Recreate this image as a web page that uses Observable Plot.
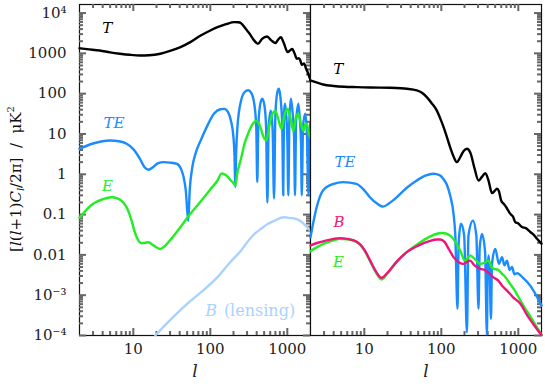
<!DOCTYPE html>
<html><head><meta charset="utf-8">
<script src="https://cdn.jsdelivr.net/npm/d3@7"></script>
<script src="https://cdn.jsdelivr.net/npm/@observablehq/plot@0.6"></script>
<style>
body{margin:0;background:#fff;}
#wrap{position:relative;width:545px;height:389px;font-family:"DejaVu Serif",serif;color:#111;}
#left,#right{position:absolute;top:0;}
#left{left:0}
#right{left:309px}
#ylab{position:absolute;left:15px;top:179px;transform:translate(-50%,-50%) rotate(-90deg);white-space:nowrap;font-size:15px;}
#ylab sub{font-size:10px;vertical-align:-3px}
#ylab sup{font-size:10px;vertical-align:7px}
</style></head><body>
<div id="wrap"><div id="left"></div><div id="right"></div>
<div id="ylab">[<i>l</i>(<i>l</i>+1)<i>C<sub>l</sub></i>/2π]&nbsp;&nbsp;/&nbsp;&nbsp;μK<sup>2</sup></div></div>
<script>
// ---- tick labels ----
const yMajor = [1e-4, 1e-3, 0.01, 0.1, 1, 10, 100, 1000, 1e4];
const yLabels = ["10⁻⁴", "10⁻³", "0.01", "0.1", "1", "10", "100", "1000", "10⁴"];
const xMajor = [10, 100, 1000];
const xLabels = ["10", "100", "1000"];
const xTitle = "l";

// ---- scalar (left panel) spectra: [l, l(l+1)C_l/2pi in muK^2] ----
const scalarT = [[2,1340],[2.5,1270],[3.66,1180],[5,1060],[6.7,980],[9,920],[12.2,887],[16,900],[22.4,980],[30,1150],[41,1430],[55,1900],[75,2780],[100,3700],[124,4470],[160,5300],[205,5940],[230,5900],[251,5600],[290,4000],[324,3060],[370,2100],[416,1730],[470,2300],[546,2620],[620,2100],[701,1800],[760,2200],[824,2500],[900,1800],[1010,1070],[1090,1200],[1160,1280],[1240,1000],[1330,735],[1400,760],[1460,700],[1550,520],[1650,560],[1750,420],[1850,330],[2000,215]];
const scalarTE = [[2,4.3],[3,5.8],[4.94,6.9],[6.5,6.6],[8.2,5.7],[10,4.2],[12.2,2.4],[14,1.5],[15.7,1.3],[18,1.5],[21,1.9],[24.8,2.0],[30,1.95],[37,1.8],[42,1.3],[45,0.85],[48,0.4],[51.7,0.07],[54,0.4],[58.4,1.5],[65,3.5],[75,6.9],[90,15],[112,32],[135,41],[152,42],[170,35],[186,20.6],[200,8],[206,3],[211,0.48],[216,3],[225,15],[251,68],[280,110],[310,122],[340,105],[370,60],[395,15],[407,0.64],[420,15],[445,55],[474,75],[505,50],[530,15],[551,0.2],[572,15],[610,38],[645,12],[672,0.25],[700,30],[740,105],[776,132],[815,80],[860,15],[885,0.3],[905,30],[931,56],[960,35],[1000,8],[1031,0.3],[1065,25],[1115,75],[1170,35],[1225,8],[1258,0.3],[1300,20],[1393,56],[1450,25],[1510,5],[1540,0.3],[1600,15],[1704,32],[1790,12],[1886,0.3],[1940,10],[2000,20]];
const scalarE = [[2,0.083],[3,0.185],[4,0.24],[5.2,0.27],[6.3,0.25],[7.4,0.2],[8.5,0.13],[9.5,0.071],[10.3,0.04],[11.1,0.027],[12.9,0.0195],[14.3,0.02],[15.7,0.0206],[18.3,0.0171],[22.4,0.014],[26,0.017],[30,0.023],[41,0.049],[55,0.105],[70,0.18],[83,0.27],[100,0.42],[124,0.7],[140,1.05],[160,0.95],[185,0.7],[200,0.6],[211,0.52],[225,1.1],[251,2.5],[280,6],[308,10],[350,17],[395,21],[440,16],[490,8.5],[535,6.9],[580,15],[640,32],[700,37],[760,24],[842,13.5],[900,25],[960,38],[1010,42],[1080,28],[1200,12],[1290,25],[1390,32],[1480,20],[1620,12],[1720,18],[1800,17],[1900,10],[2000,8]];
const lensingB = [[19.3,1e-4],[30,2.4e-4],[50,6.1e-4],[80,1.3e-3],[124,2.8e-3],[180,6.5e-3],[251,0.0128],[310,0.022],[375,0.033],[460,0.045],[562,0.059],[700,0.072],[800,0.082],[931,0.086],[1050,0.083],[1258,0.079],[1400,0.074],[1540,0.065],[1700,0.055],[1886,0.045],[2000,0.04]];

// ---- tensor (right panel) spectra ----
const tensorT = [[2,212],[2.5,185],[2.92,169],[4,155],[5.5,148],[7.94,145],[12,142],[21.6,140],[30,136],[35.6,132],[48,120],[56,105],[64.7,82],[75,58],[87.5,38],[97,24],[107,14.8],[118,8.5],[130,4.7],[145,2.7],[159,2.0],[175,2.6],[195,3.8],[215,4.3],[240,3.3],[270,1.4],[304,0.70],[335,0.85],[372,1.06],[410,0.7],[455,0.34],[490,0.38],[528,0.44],[560,0.38],[600,0.22],[645,0.185],[700,0.15],[750,0.12],[788,0.104],[850,0.09],[913,0.065],[1000,0.06],[1115,0.049],[1250,0.046],[1432,0.037],[1600,0.031],[1750,0.025],[2000,0.019]];
const tensorTE = [[2,0.0275],[2.4,0.15],[2.92,0.40],[4,0.58],[5.3,0.64],[7.9,0.58],[10,0.4],[11.8,0.27],[14.5,0.19],[17.6,0.158],[21,0.19],[26.4,0.27],[35,0.45],[48,0.70],[62,0.92],[79,1.03],[95,0.95],[107,0.75],[118,0.55],[130,0.3],[144,0.105],[152,0.03],[162,4.6e-4],[168,0.02],[180,0.059],[198,0.03],[215,1.2e-4],[225,0.03],[257,0.071],[285,0.03],[304,4.6e-4],[315,0.015],[337,0.033],[370,0.012],[391,1.05e-4],[400,0.005],[411,0.0097],[425,0.004],[441,2.6e-4],[455,0.006],[502,0.014],[560,0.006],[614,0.0088],[660,0.0055],[713,0.0072],[770,0.0042],[828,0.005],[890,0.0033],[962,0.0035],[1172,0.0026],[1434,0.0017],[1700,0.001],[2000,5.5e-4]];
const tensorE = [[2,0.0124],[2.5,0.016],[3,0.019],[4,0.023],[4.8,0.025],[6,0.0245],[7.9,0.021],[10,0.013],[11.8,0.0072],[14,0.0038],[16.8,0.00245],[20,0.0035],[26.4,0.0068],[35.6,0.0117],[50,0.019],[70,0.028],[90,0.034],[101.6,0.035],[115,0.034],[130,0.030],[150,0.022],[176,0.0128],[203,0.0072],[236,0.0097],[270,0.008],[320,0.006],[370,0.0065],[411,0.0072],[450,0.005],[479,0.0045],[540,0.0043],[614,0.0034],[680,0.0028],[784,0.0019],[880,0.0014],[1064,7.4e-4],[1200,5e-4],[1362,3.5e-4],[1600,2.1e-4],[2000,1.05e-4]];
const tensorB = [[2,0.0171],[2.5,0.02],[3,0.022],[4,0.025],[4.8,0.026],[6,0.025],[7.9,0.0215],[10,0.0135],[11.8,0.0075],[14,0.004],[16.8,0.0027],[20,0.0036],[26.4,0.0068],[35.6,0.0117],[50,0.017],[70,0.022],[87.5,0.024],[96.6,0.024],[110,0.021],[125,0.014],[144,0.0088],[170,0.0065],[193,0.006],[236,0.0072],[270,0.0055],[320,0.0045],[370,0.0042],[411,0.0036],[470,0.0028],[550,0.0023],[620,0.0017],[713,0.0013],[850,9e-4],[1064,6.1e-4],[1300,3.2e-4],[1570,1.9e-4],[2000,1.02e-4]];

// ---- curve colours ----
const colors = {T: "#000000", TE: "#1a8cff", E: "#22ee22", Blens: "#aad2ff", B: "#f0147a"};

// annotation text (positions in data units)
const leftNotes = [
  {t: "T", l: 4.6, v: 4150, c: colors.T},
  {t: "TE", l: 5.6, v: 18.5, c: colors.TE},
  {t: "E", l: 4.6, v: 0.5, c: colors.E}
];
const rightNotes = [
  {t: "T", l: 4.6, v: 415, c: colors.T},
  {t: "TE", l: 5.6, v: 2.0, c: colors.TE},
  {t: "B", l: 4.7, v: 0.065, c: colors.B},
  {t: "E", l: 4.6, v: 0.0066, c: colors.E}
];

const mult = [2,3,4,5,6,7,8,9];
const yMinor = [1e-4,1e-3,1e-2,0.1,1,10,100,1000].flatMap(d => mult.map(k => k * d));
const xMinor = [1,10,100,1000].flatMap(d => mult.map(k => k * d)).filter(v => v > 2 && v < 2000);

const tickColor = "#666";
const PW = 231, PH = 331; // plot-area size of each panel in px
// inward-pointing tick marks drawn as short ticks (inset from the far side)
function inTicks(ch, side, ticks, size) {
  const o = {stroke: tickColor, strokeWidth: 2};
  if (ch === "y") {
    return Plot.tickY(ticks, {y: d => d, ...o, ...(side === "left" ? {insetRight: PW - size} : {insetLeft: PW - size})});
  }
  return Plot.tickX(ticks, {x: d => d, ...o, ...(side === "bottom" ? {insetTop: PH - size} : {insetBottom: PH - size})});
}

function panel({series, notes, width, marginLeft, marginRight, showY, leftTicks, extra = []}) {
  const marks = [
    Plot.frame({stroke: "#111", strokeWidth: 1.2}),
    inTicks("x", "bottom", xMajor, 7), inTicks("x", "bottom", xMinor, 4),
    inTicks("x", "top", xMajor, 7), inTicks("x", "top", xMinor, 4),
    inTicks("y", "right", yMajor, 7), inTicks("y", "right", yMinor, 4),
    ...(leftTicks ? [inTicks("y", "left", yMajor, 7), inTicks("y", "left", yMinor, 4)] : []),
    ...series.map(([data, c]) => Plot.line(data, {x: d => d[0], y: d => d[1], stroke: c, strokeWidth: 2.4, curve: "monotone-x"})),
    Plot.text(notes, {x: "l", y: "v", text: "t", fill: "c", fontStyle: "italic", fontSize: 15}),
    ...extra,
    Plot.axisX({ticks: xMajor, tickFormat: d => xLabels[xMajor.indexOf(d)], tickSize: 0, tickPadding: 8, label: null, fontSize: 15, fill: "#222"}),
    Plot.text([xTitle], {text: d => d, frameAnchor: "bottom", dy: 41, fontStyle: "italic", fontSize: 17, fill: "#222"})
  ];
  if (showY) marks.push(Plot.axisY({ticks: yMajor, tickFormat: d => yLabels[yMajor.indexOf(d)], tickSize: 0, tickPadding: 13, label: null, fontSize: 15, fill: "#222"}));
  return Plot.plot({
    width, height: 389,
    marginLeft, marginRight, marginTop: 4, marginBottom: 54,
    style: {fontFamily: "DejaVu Serif", fontSize: "15px"},
    x: {type: "log", domain: [2, 2000]},
    y: {type: "log", domain: [1e-4, 1.63e4], axis: showY ? undefined : null},
    marks
  });
}

const left = panel({
  series: [[lensingB, colors.Blens], [scalarT, colors.T], [scalarTE, colors.TE], [scalarE, colors.E]],
  notes: leftNotes, width: 311, marginLeft: 79, marginRight: 1, showY: true, leftTicks: true,
  extra: [
    Plot.text(["B"], {x: 86, y: 4.0e-4, text: d => d, textAnchor: "start", fontStyle: "italic", fontSize: 16, fill: colors.Blens}),
    Plot.text(["(lensing)"], {x: 150, y: 4.0e-4, text: d => d, textAnchor: "start", fontSize: 16, fill: colors.Blens})
  ]
});
const right = panel({
  series: [[tensorT, colors.T], [tensorTE, colors.TE], [tensorE, colors.E], [tensorB, colors.B]],
  notes: rightNotes, width: 236, marginLeft: 1, marginRight: 4, showY: false, leftTicks: false
});
document.getElementById("left").append(left);
document.getElementById("right").append(right);
</script>
</body></html>
